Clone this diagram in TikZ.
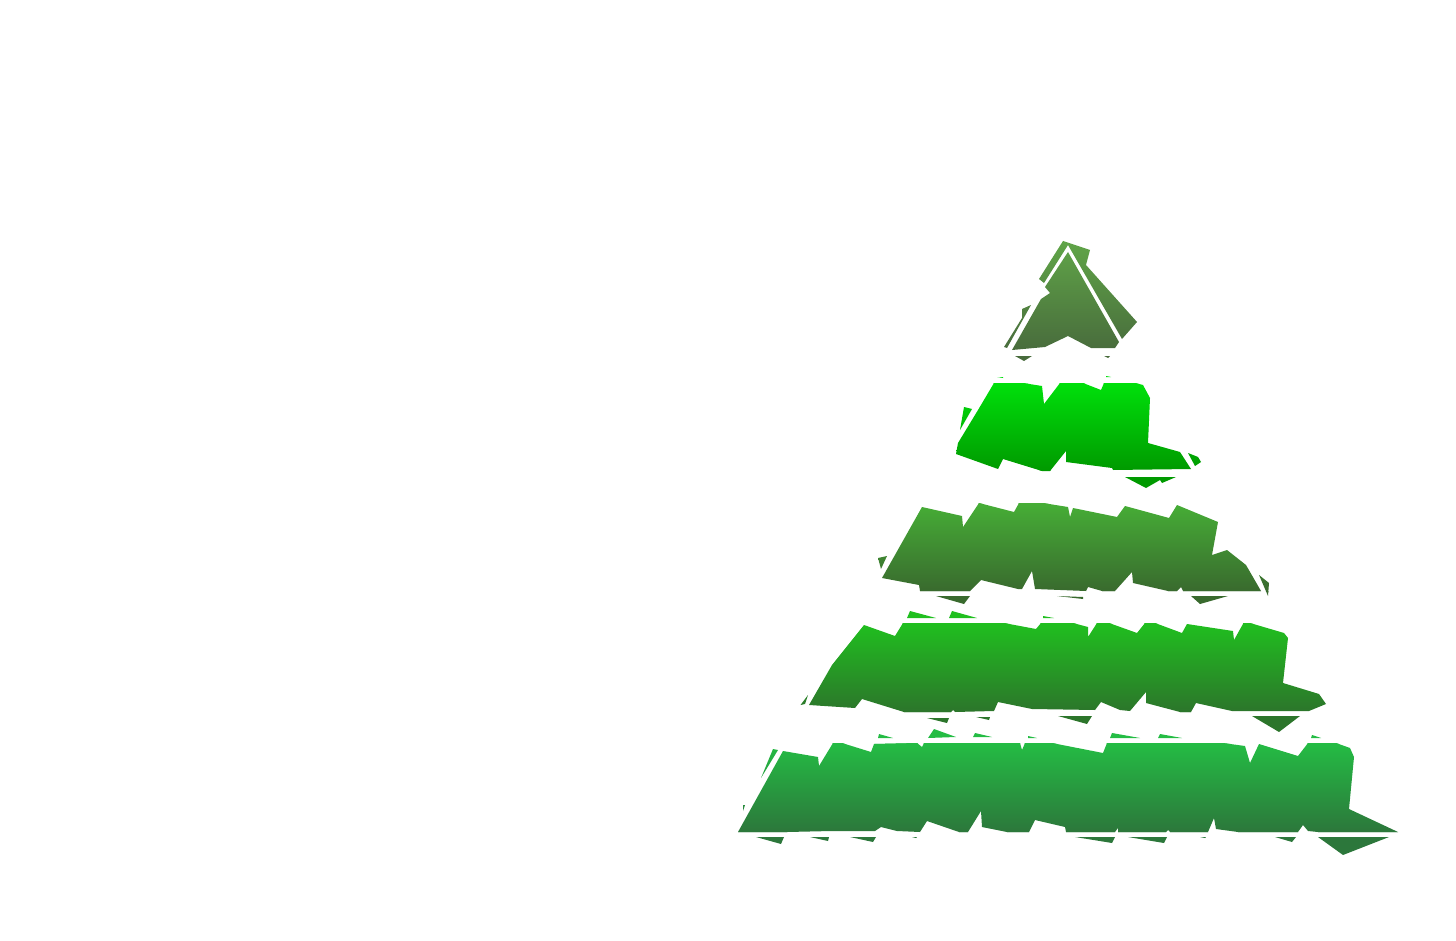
\documentclass[tikz,border=0pt]{standalone}

\definecolor{crownTop}{HTML}{60A548}
\definecolor{crownBot}{HTML}{486B3C}
\definecolor{limeTop}{HTML}{00E00B}
\definecolor{limeBot}{HTML}{009A00}
\definecolor{mossTop}{HTML}{46AE36}
\definecolor{mossBot}{HTML}{396A2E}
\definecolor{leafTop}{HTML}{20BF1F}
\definecolor{leafBot}{HTML}{2C752B}
\definecolor{baseTop}{HTML}{24BC44}
\definecolor{baseBot}{HTML}{2C773B}

% colours, top row, bottom row, outlines of one tier
\newcommand{\TreeTier}[5]{
\begin{scope}
\clip #5;
\fill[#1] (700, #3-30) rectangle (1456, #3+0.5);
\shade[top color=#1, bottom color=#2] (700, #3) rectangle (1456, #4);
\fill[#2] (700, #4-0.5) rectangle (1456, #4+30);
\end{scope}
}

\begin{document}
\begin{tikzpicture}[x=0.75pt, y=-0.75pt]
\useasboundingbox (0, 0) rectangle (1456, 941);

% top
\TreeTier{crownTop}{crownBot}{241}{352}{
(1063,241) -- (1090,250) -- (1086,265) -- (1137,322) -- (1122,339) -- (1068,245) -- (1044,283) -- (1039,279) -- cycle
(1068,252) -- (1119,342) -- (1115,348) -- (1091,348) -- (1068,336) -- (1045,347) -- (1012,350) -- (1041,299) -- (1050,293) -- (1045,287) -- cycle
(1022,309) -- (1031,305) -- (1007,348) -- (1004,347) -- (1022,318) -- cycle
(1015,356) -- (1032,356) -- (1024,361) -- cycle
(1104,356) -- (1110,356) -- (1108,358) -- cycle
}

\TreeTier{limeTop}{limeBot}{383}{470}{
(994,383) -- (1023,383) -- (1042,386) -- (1044,404) -- (1060,383) -- (1083,383) -- (1101,390) -- (1104,383) -- (1135,383) -- (1143,385) -- (1150,398) -- (1148,443) -- (1180,452) -- (1191,469) -- (1113,470) -- (1112,468) -- (1066,462) -- (1066,451) -- (1050,471) -- (1042,471) -- (1003,459) -- (998,469) -- (956,454) -- (958,443) -- (978,410) -- cycle
(964,407) -- (972,409) -- (960,430) -- cycle
(1188,453) -- (1198,457) -- (1201,462) -- (1195,466) -- cycle
(1125,477) -- (1176,477) -- (1162,483) -- (1160,480) -- (1146,488) -- cycle
(997,377) -- (1003,377) -- (1003,378) -- cycle
(1106,376) -- (1111,377) -- (1106,377) -- cycle
}

\TreeTier{mossTop}{mossBot}{503}{591}{
(922,507) -- (962,516) -- (963,527) -- (979,503) -- (1014,512) -- (1019,503) -- (1043,503) -- (1068,507) -- (1070,517) -- (1073,508) -- (1117,517) -- (1125,506) -- (1169,518) -- (1177,505) -- (1218,522) -- (1212,555) -- (1227,550) -- (1246,565) -- (1261,591) -- (1183,591) -- (1181,587) -- (1177,591) -- (1168,591) -- (1133,583) -- (1132,572) -- (1115,591) -- (1102,591) -- (1088,587) -- (1086,591) -- (1035,589) -- (1032,571) -- (1022,589) -- (1018,589) -- (981,580) -- (970,591) -- (920,591) -- (919,585) -- (882,578) -- cycle
(878,558) -- (887,556) -- (881,569) -- cycle
(1259,575) -- (1269,583) -- (1268,596) -- cycle
(936,596) -- (970,596) -- (964,604) -- cycle
(1057,596) -- (1083,597) -- (1083,599) -- cycle
(1191,596) -- (1228,596) -- (1200,604) -- cycle
}

\TreeTier{leafTop}{leafBot}{623}{712}{
(864,625) -- (895,636) -- (903,623) -- (1004,623) -- (1036,629) -- (1041,623) -- (1073,623) -- (1088,627) -- (1088,637) -- (1097,623) -- (1109,623) -- (1137,633) -- (1145,623) -- (1155,623) -- (1182,633) -- (1187,624) -- (1233,631) -- (1234,640) -- (1243.5,623) -- (1250,623) -- (1284,633) -- (1288,638) -- (1283,683) -- (1319,694) -- (1326,704) -- (1309,711) -- (1232,711) -- (1196,703) -- (1191,712) -- (1180,712) -- (1146,703) -- (1146,692) -- (1130,711) -- (1120,710) -- (1101,702) -- (1095,710) -- (1032,709) -- (998,702) -- (994,711) -- (955,712) -- (953,710) -- (951,712) -- (904,712) -- (862,699) -- (855,708) -- (809,705) -- (832,665) -- cycle
(910,611) -- (936,618) -- (907,618) -- cycle
(952,611) -- (977,618) -- (949,618) -- cycle
(1043,616) -- (1054,618) -- (1043,618) -- cycle
(808,695) -- (800.5,705) -- (805,704) -- cycle
(927,718) -- (949,718) -- (947,723) -- cycle
(976,717) -- (990,717) -- (989,720) -- cycle
(1058,716) -- (1092,716) -- (1087,724) -- cycle
(1252,716) -- (1300,716) -- (1279,732) -- cycle
}

% bottom
\TreeTier{baseTop}{baseBot}{743}{832}{
(783,751) -- (818,757) -- (819,766) -- (833,743) -- (842,743) -- (871,752) -- (874,744) -- (917,743) -- (922,747) -- (924,743) -- (1020,743) -- (1022,750) -- (1025,743) -- (1052,743) -- (1103,753) -- (1107,743) -- (1223,743) -- (1245,746) -- (1250,763) -- (1259,744) -- (1298,756) -- (1308,743) -- (1336,743) -- (1350,748) -- (1354,757) -- (1349,809) -- (1398,832) -- (1318,832) -- (1308,831) -- (1303,825) -- (1298,832) -- (1238,832) -- (1216,829) -- (1214,818) -- (1208,832) -- (1170,832) -- (1168,830) -- (1166,832) -- (1118,832) -- (1118,828) -- (1115,832) -- (1066,832) -- (1065,827) -- (1035,820) -- (1029,832) -- (1007,832) -- (982,827) -- (981,811) -- (968,832) -- (959,832) -- (927,821) -- (920,832) -- (897,831) -- (881,827) -- (875,831) -- (832,831) -- (787,832) -- (738,832) -- cycle
(773,749) -- (778,750) -- (761,778) -- cycle
(743,805) -- (745,805) -- (743,811) -- cycle
(879,734) -- (893,738) -- (878,738) -- cycle
(934,729) -- (956,737) -- (928,738) -- cycle
(975,733) -- (992,737) -- (973,737) -- cycle
(1028,736) -- (1037,738) -- (1028,738) -- cycle
(1112,733) -- (1140,738) -- (1110,738) -- cycle
(1160,734) -- (1182,738) -- (1158,738) -- cycle
(1312,735) -- (1321,738) -- (1311,738) -- cycle
(756,837) -- (784,837) -- (781,844) -- cycle
(810,837) -- (829,837) -- (828,841) -- cycle
(850,837) -- (876,837) -- (873,842) -- cycle
(912,837) -- (917,837) -- (916,838) -- cycle
(1075,837) -- (1115,837) -- (1112,843) -- cycle
(1128,837) -- (1167,837) -- (1164,843) -- cycle
(1200,837) -- (1206,837) -- (1205,838) -- cycle
(1275,837) -- (1296,837) -- (1292,842) -- cycle
(1318,837) -- (1389,837) -- (1343,855) -- cycle
}

\end{tikzpicture}
\end{document}
